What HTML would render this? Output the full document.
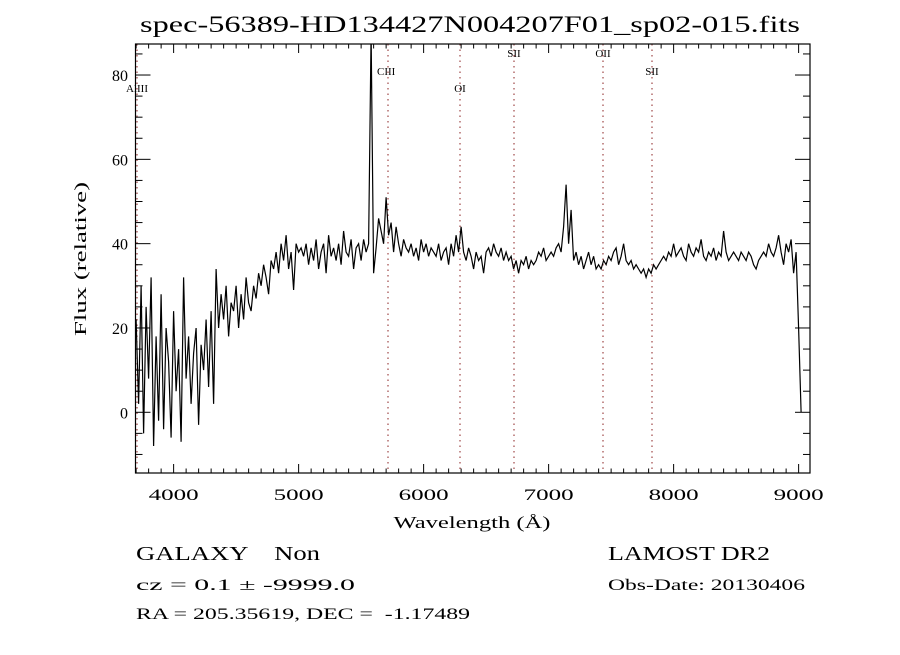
<!DOCTYPE html>
<html><head><meta charset="utf-8"><style>
html,body{margin:0;padding:0;background:#fff;}
svg text{font-family:"Liberation Serif",serif;fill:#000;}
</style></head><body>
<svg id="chart" width="900" height="650" viewBox="0 0 900 650" xmlns="http://www.w3.org/2000/svg">
<rect x="0" y="0" width="900" height="650" fill="#fff"/>
<text x="470" y="32" text-anchor="middle" font-size="23" textLength="660" lengthAdjust="spacingAndGlyphs">spec-56389-HD134427N004207F01_sp02-015.fits</text>
<defs><clipPath id="pc"><rect x="135.5" y="44" width="674.5" height="429"/></clipPath></defs>
<g id="lines"></g>
<g id="series" clip-path="url(#pc)"></g>
<rect x="135.5" y="44" width="674.5" height="429" fill="none" stroke="#000" stroke-width="1.2"/>
<g id="axes"></g>
<text x="472" y="528" text-anchor="middle" font-size="17" textLength="157" lengthAdjust="spacingAndGlyphs">Wavelength (Å)</text>
<text transform="translate(86,259) rotate(-90)" text-anchor="middle" font-size="17" textLength="154" lengthAdjust="spacingAndGlyphs">Flux (relative)</text>
<text x="136" y="560" font-size="20" textLength="184" lengthAdjust="spacingAndGlyphs" xml:space="preserve">GALAXY    Non</text>
<text x="608" y="560" font-size="20" textLength="162" lengthAdjust="spacingAndGlyphs">LAMOST DR2</text>
<text x="136" y="590" font-size="16" textLength="219" lengthAdjust="spacingAndGlyphs">cz = 0.1 ± -9999.0</text>
<text x="608" y="590" font-size="16" textLength="197" lengthAdjust="spacingAndGlyphs">Obs-Date: 20130406</text>
<text x="136" y="619" font-size="16" textLength="334" lengthAdjust="spacingAndGlyphs" xml:space="preserve">RA = 205.35619, DEC =  -1.17489</text>
</svg>
<script>
const waveStart = 3700;
const waveStep = 20;
const flux = [
22,2,30,-5,25,8,32,-8,18,-2,
28,-4,20,12,-6,24,5,15,-7,32,
8,18,2,14,20,-3,16,10,22,6,
24,2,34,20,28,22,30,18,26,24,
30,20,28,22,32,26,24,30,27,33,
30,35,32,28,36,34,38,33,40,36,
42,34,38,29,40,38,39,37,40,35,
39,36,41,34,38,40,33,42,37,39,
36,40,35,43,38,37,41,34,39,40,
36,41,38,40,90,33,39,46,43,40,
51,42,45,38,44,40,37,41,39,38,
40,37,39,36,41,38,40,37,39,38,
37,40,36,38,39,35,40,37,42,38,
44,38,36,39,37,34,38,36,37,33,
38,39,37,40,38,37,39,36,38,36,
37,34,36,33,36,35,37,34,36,35,
36,38,37,39,36,37,38,37,39,40,
38,44,54,40,48,36,38,35,37,34,
36,38,35,37,34,35,34,36,35,37,
36,38,39,35,37,40,36,35,36,34,
35,34,33,34,32,34,33,35,34,35,
36,37,36,38,37,40,37,38,39,37,
36,40,38,37,39,38,41,37,36,38,
37,39,36,38,37,43,38,36,37,38,
37,36,38,37,36,38,37,35,34,36,
37,38,37,40,38,37,39,42,38,35,
40,38,41,33,38,20,0
];
const xTicks = [4000,5000,6000,7000,8000,9000];
const yTicks = [0,20,40,60,80];
const lineNames = ["AlIII","CIII","OI","SII","OII","SII"];
const lineWaves = [3707,5715,6291,6723,7435,7827];
const labelY = [92,75,92,57,57,75];

const NS="http://www.w3.org/2000/svg";
const X0=135.5,X1=810,Y0=44,Y1=473;
const xMin=3695,xMax=3695+(X1-X0)*8;
const yMin=-14.4,yMax=(412.3-44)/4.216;
function xs(w){return X0+(w-xMin)/(xMax-xMin)*(X1-X0);}
function ys(v){return Y1-(v-yMin)/(yMax-yMin)*(Y1-Y0);}
function mk(tag,attrs,parent){const e=document.createElementNS(NS,tag);for(const k in attrs)e.setAttribute(k,attrs[k]);parent.appendChild(e);return e;}

const series=document.getElementById('series');
let d='';
flux.forEach((v,i)=>{const x=xs(waveStart+i*waveStep);d+=(i?'L':'M')+x.toFixed(1)+' '+ys(v).toFixed(1);});
const p=mk('path',{d:d,fill:'none',stroke:'#000','stroke-width':'1.2'},series);



const lines=document.getElementById('lines');
lineWaves.forEach((w,i)=>{
  const x=xs(w);
  const l=mk('line',{x1:x,x2:x,y1:Y0,y2:Y1,stroke:'#8b2020','stroke-width':'1','stroke-dasharray':'1.5 4'},lines);
  
  
  const t=mk('text',{x:i===1?x-11:x,y:labelY[i],'text-anchor':i===1?'start':'middle','font-size':'11'},lines);
  t.textContent=lineNames[i];
  
  
});

const axes=document.getElementById('axes');
for(let w=3700;w<=9000;w+=100){
  const x=xs(w);const major=w%1000===0;const len=major?9:4.5;
  mk('line',{x1:x,x2:x,y1:Y1,y2:Y1-len,stroke:'#000','stroke-width':'1'},axes);
  mk('line',{x1:x,x2:x,y1:Y0,y2:Y0+len,stroke:'#000','stroke-width':'1'},axes);
}
xTicks.forEach(w=>{
  const t=mk('text',{x:xs(w),y:500,'text-anchor':'middle','font-size':'16',textLength:'50',lengthAdjust:'spacingAndGlyphs'},axes);
  t.textContent=String(w);
  
  
});
for(let v=-10;v<=85;v+=5){
  const y=ys(v);const major=v%20===0;const len=major?15:7;
  mk('line',{x1:X0,x2:X0+len,y1:y,y2:y,stroke:'#000','stroke-width':'1'},axes);
  mk('line',{x1:X1,x2:X1-len,y1:y,y2:y,stroke:'#000','stroke-width':'1'},axes);
}
yTicks.forEach(v=>{
  const t=mk('text',{x:128,y:ys(v)+6,'text-anchor':'end','font-size':'16'},axes);
  t.textContent=String(v);
  
  
});
</script>
</body></html>
